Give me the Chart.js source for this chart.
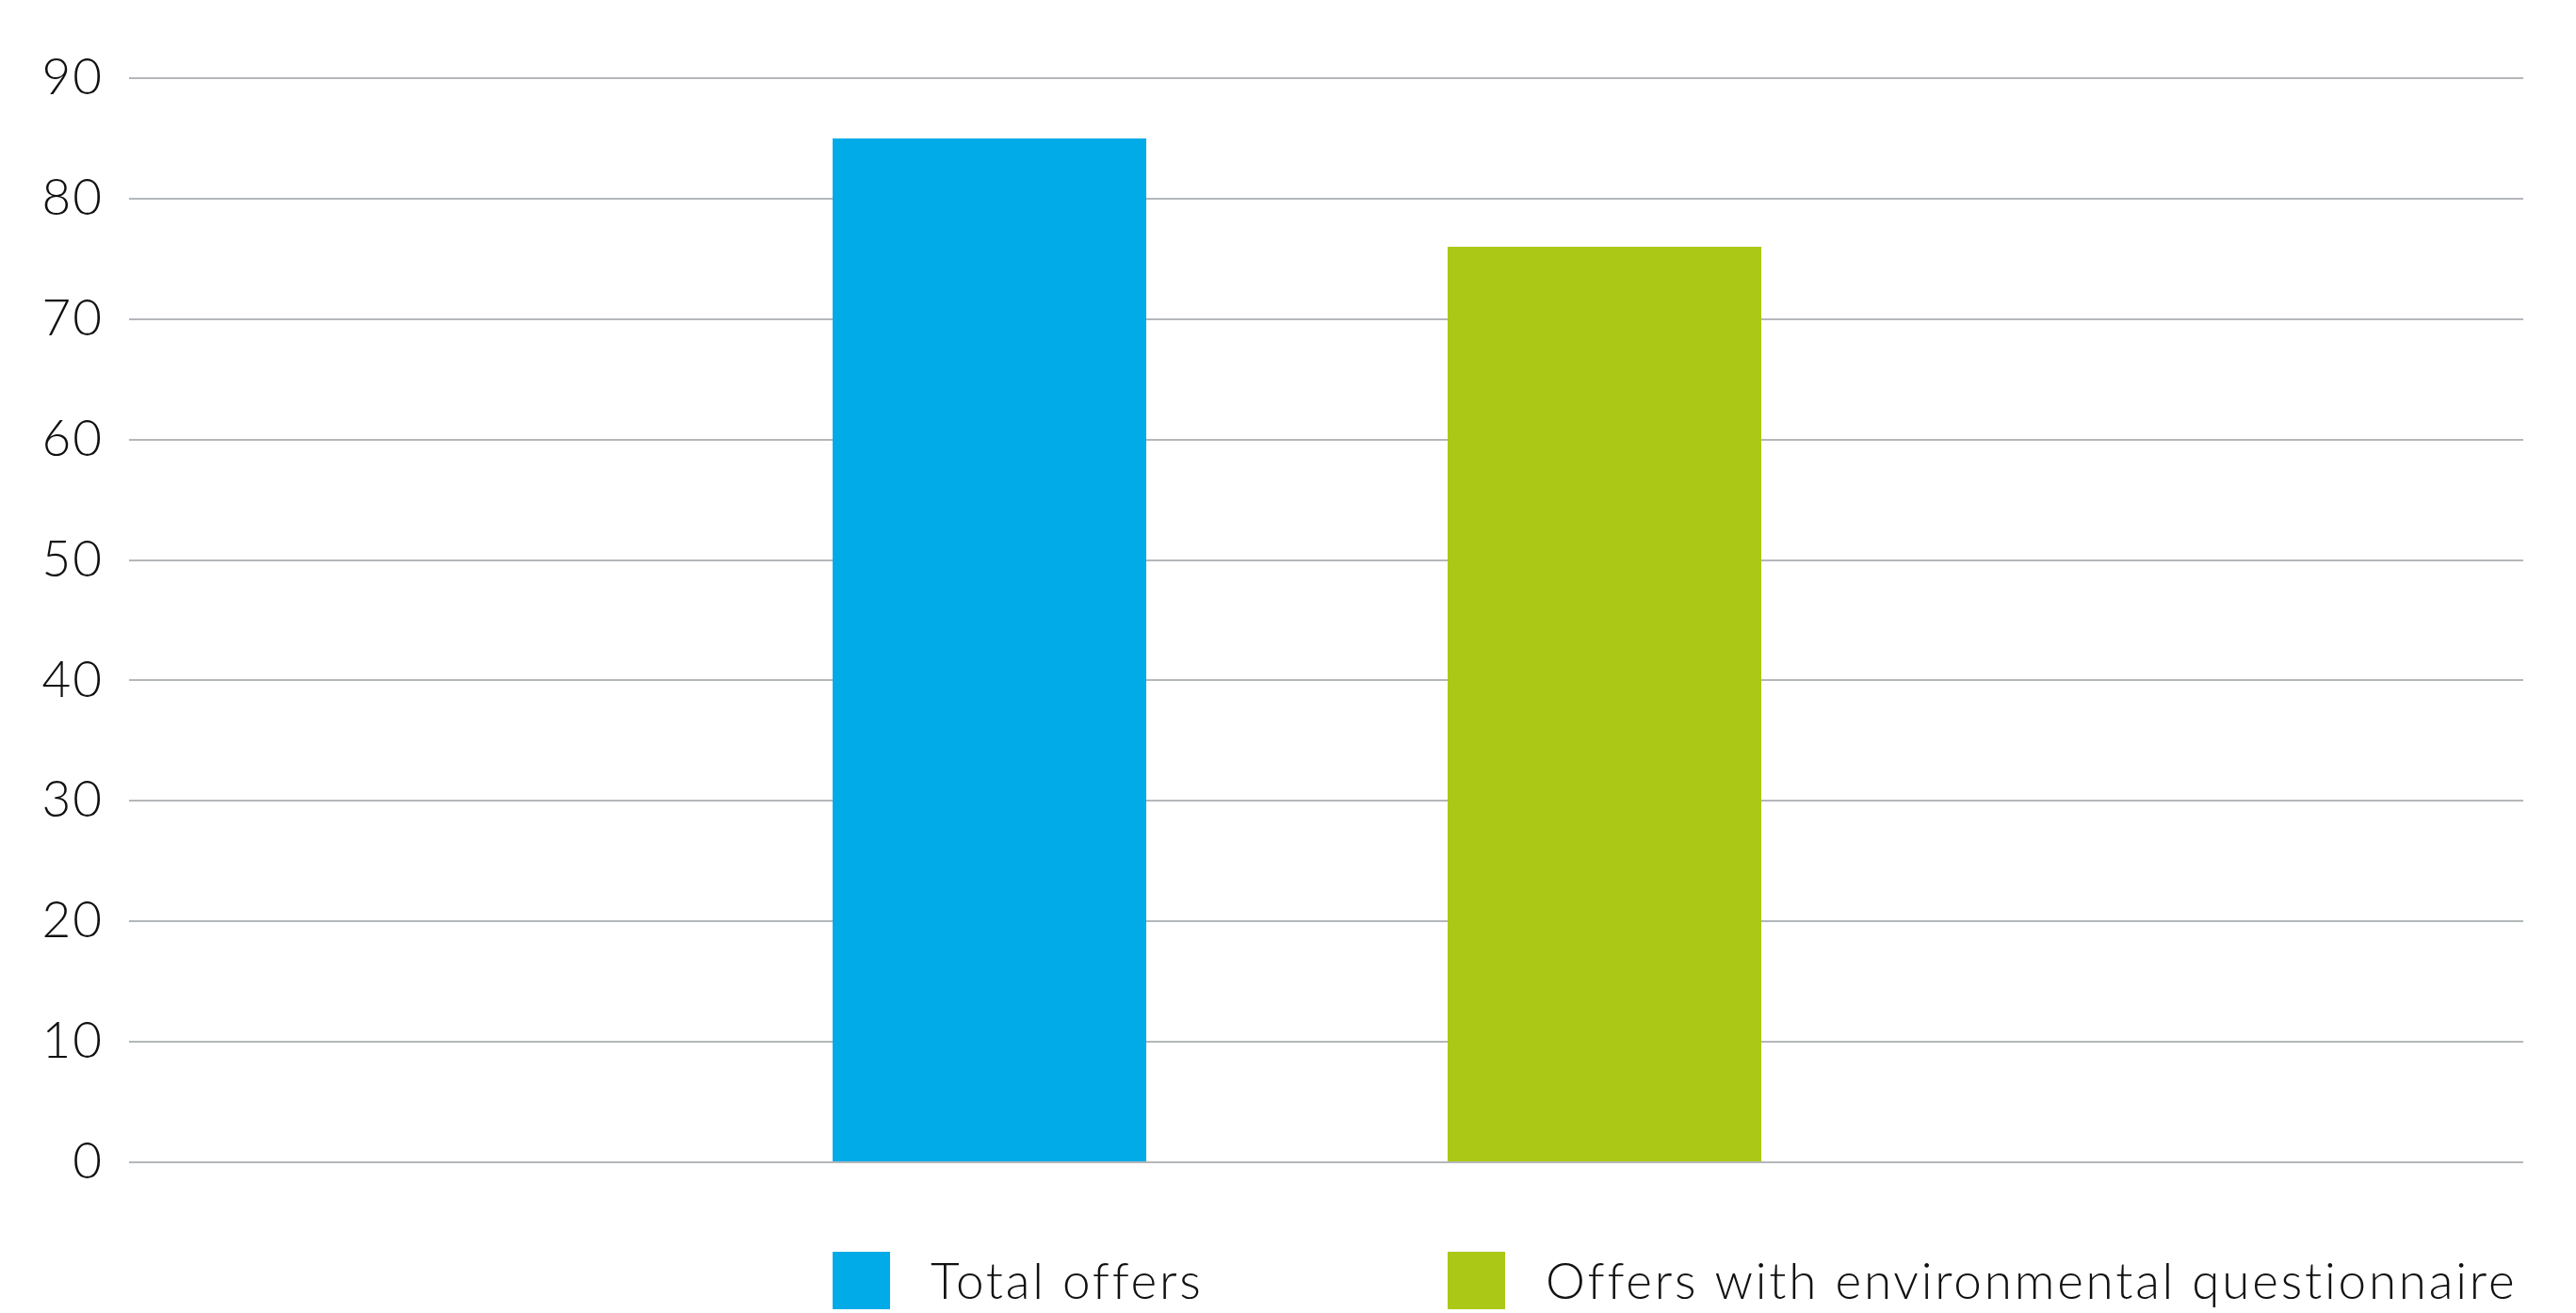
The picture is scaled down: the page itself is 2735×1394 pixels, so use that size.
<!DOCTYPE html>
<html>
<head>
<meta charset="utf-8">
<script src="https://cdn.jsdelivr.net/npm/chart.js@4.4.1/dist/chart.umd.min.js"></script>
<style>
  html, body { margin: 0; padding: 0; background: #fff; overflow: hidden; }
  #wrap { width: 2735px; height: 1394px; }
</style>
</head>
<body>
<div id="wrap"><canvas id="offersChart"></canvas></div>
<script>
// values
const categories = [''];
const seriesNames = ['Total offers', 'Offers with environmental questionnaire'];
const totalOffers = [85];
const envOffers = [76];
const seriesColors = ['#00abe7', '#aac815'];

const fontFamily = 'Lato, "Open Sans", sans-serif';
const gridColor = '#b4b7ba';

// slightly wider letter spacing, like the original typeface
const spacing = {
    id: 'spacing',
    beforeDraw(chart) {
        chart.ctx.letterSpacing = '2px';
    }
};

// legend squares sit under each bar, left-aligned with it
const barLegend = {
    id: 'barLegend',
    afterDraw(chart) {
        const ctx = chart.ctx;
        ctx.save();
        ctx.letterSpacing = '2.8px';
        chart.data.datasets.forEach((ds, i) => {
            const bar = chart.getDatasetMeta(i).data[0];
            const left = bar.x - bar.width / 2;
            ctx.fillStyle = ds.backgroundColor;
            ctx.fillRect(left, 1329, 61, 61);
            ctx.fillStyle = '#111';
            ctx.font = '300 53px ' + fontFamily;
            ctx.textBaseline = 'alphabetic';
            ctx.fillText(ds.label, left + 104, 1379);
        });
        ctx.restore();
    }
};

document.addEventListener("DOMContentLoaded", function() {
    const ctx = document.getElementById('offersChart').getContext('2d');

    new Chart(ctx, {
        type: 'bar',
        data: {
            labels: categories,
            datasets: [{
                label: seriesNames[0],
                data: totalOffers,
                backgroundColor: seriesColors[0],
            }, {
                label: seriesNames[1],
                data: envOffers,
                backgroundColor: seriesColors[1],
            }]
        },
        options: {
            responsive: true,
            maintainAspectRatio: false,
            animation: false,
            categoryPercentage: 0.5266,
            barPercentage: 0.51,
            layout: {
                padding: { top: 83, right: 56, bottom: 160, left: 0 }
            },
            plugins: {
                legend: { display: false },
                tooltip: { enabled: false }
            },
            scales: {
                x: {
                    display: false
                },
                y: {
                    min: 0,
                    max: 90,
                    border: { display: false },
                    grid: {
                        color: gridColor,
                        lineWidth: 2,
                        drawTicks: false
                    },
                    ticks: {
                        stepSize: 10,
                        padding: 27,
                        color: '#111',
                        font: { family: fontFamily, size: 53, weight: 300 }
                    },
                    afterFit(scale) {
                        scale.width = 137;
                    }
                },
                // gridlines run a little past the bars' area on the right
                yRight: {
                    position: 'right',
                    min: 0,
                    max: 90,
                    border: { display: false },
                    grid: {
                        color: gridColor,
                        lineWidth: 2,
                        drawOnChartArea: false,
                        drawTicks: true,
                        tickLength: 62
                    },
                    ticks: { stepSize: 10, display: false },
                    afterFit(scale) {
                        scale.width = 62;
                    }
                }
            }
        },
        plugins: [spacing, barLegend]
    });
});
</script>
</body>
</html>
